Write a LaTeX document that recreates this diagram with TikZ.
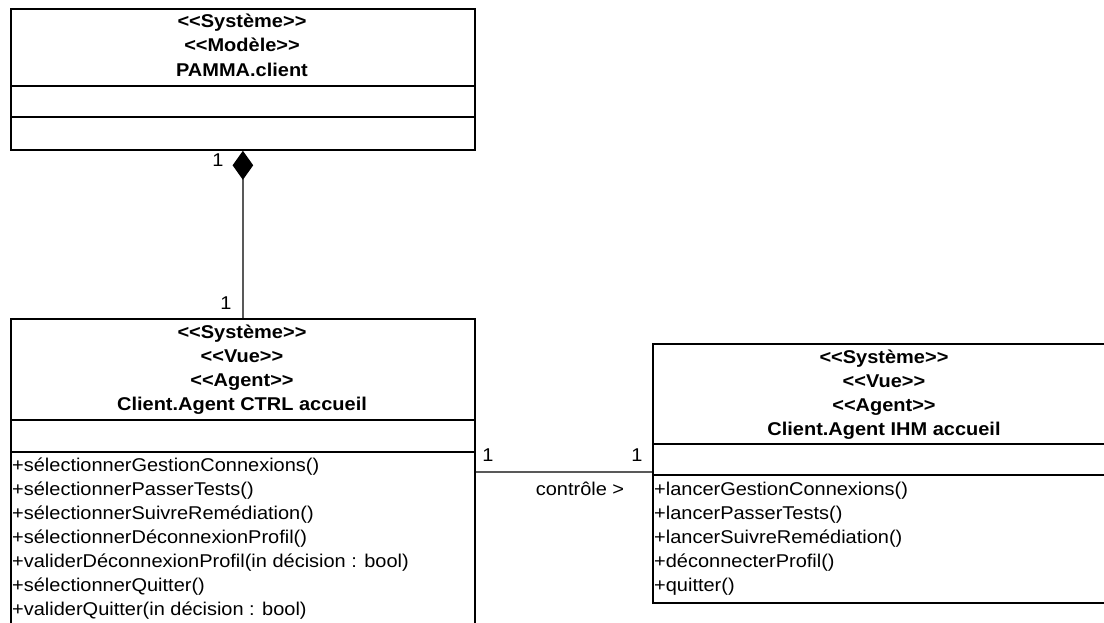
\documentclass[tikz,border=0pt]{standalone}
\usepackage{fontspec}
\setmainfont{Liberation Sans}[FakeStretch=1.08]
\usetikzlibrary{arrows.meta}
\begin{document}
\begin{tikzpicture}[x=1pt,y=-1pt,
  box/.style={draw=black, line width=1.8pt, inner sep=0pt, anchor=north west},
  sep/.style={line width=1.8pt, draw=black},
  hd/.style={font=\fontsize{18.5}{22}\selectfont\bfseries, anchor=base, inner sep=0pt},
  op/.style={font=\fontsize{18.5}{22}\selectfont, anchor=base west, inner sep=0pt},
  lbl/.style={font=\fontsize{18.5}{22}\selectfont, anchor=base, inner sep=0pt},
  conn/.style={line width=1.3pt, draw=black!65}]
\useasboundingbox (0,0) rectangle (1104,623);
\clip (0,0) rectangle (1104,623);
\fill[white] (0,0) rectangle (1104,623);

% --- PAMMA.client
\node[box, minimum width=464pt, minimum height=141pt] (model) at (10,8) {};
\draw[sep] (model.west |- 0,86) -- (model.east |- 0,86);
\draw[sep] (model.west |- 0,117) -- (model.east |- 0,117);
\node[hd] (m1) at (242,28) {<{}<Système>{}>};
\node[hd] (m2) at (242,52) {<{}<Modèle>{}>};
\node[hd] (m3) at (242,77) {PAMMA.client};

% --- CTRL
\node[box, minimum width=464pt, minimum height=310pt] (ctrl) at (10,318) {};
\draw[sep] (ctrl.west |- 0,420) -- (ctrl.east |- 0,420);
\draw[sep] (ctrl.west |- 0,452) -- (ctrl.east |- 0,452);
\node[hd] (c1) at (242,338) {<{}<Système>{}>};
\node[hd] (c2) at (242,362) {<{}<Vue>{}>};
\node[hd] (c3) at (242,386) {<{}<Agent>{}>};
\node[hd] (c4) at (242,410) {Client.Agent CTRL accueil};
\node[op] (co1) at (12,471) {+sélectionnerGestionConnexions()};
\node[op] (co2) at (12,495) {+sélectionnerPasserTests()};
\node[op] (co3) at (12,519) {+sélectionnerSuivreRemédiation()};
\node[op] (co4) at (12,543) {+sélectionnerDéconnexionProfil()};
\node[op] (co5) at (12,567) {+validerDéconnexionProfil(in décision : bool)};
\node[op] (co6) at (12,591) {+sélectionnerQuitter()};
\node[op] (co7) at (12,615) {+validerQuitter(in décision : bool)};

% --- IHM
\node[box, minimum width=464pt, minimum height=259pt] (ihm) at (652,343) {};
\draw[sep] (ihm.west |- 0,444) -- (ihm.east |- 0,444);
\draw[sep] (ihm.west |- 0,475) -- (ihm.east |- 0,475);
\node[hd] (i1) at (884,363) {<{}<Système>{}>};
\node[hd] (i2) at (884,387) {<{}<Vue>{}>};
\node[hd] (i3) at (884,411) {<{}<Agent>{}>};
\node[hd] (i4) at (884,435) {Client.Agent IHM accueil};
\node[op] (io1) at (654,495) {+lancerGestionConnexions()};
\node[op] (io2) at (654,519) {+lancerPasserTests()};
\node[op] (io3) at (654,543) {+lancerSuivreRemédiation()};
\node[op] (io4) at (654,567) {+déconnecterProfil()};
\node[op] (io5) at (654,591) {+quitter()};

% --- connectors
\draw[conn, {Diamond[length=29pt, width=20.6pt, color=black, fill=black]}-] (model.south) -- (ctrl.north);
\node[lbl] (mult1) at (218,167) {1};
\node[lbl] (mult2) at (226,309) {1};
\draw[conn] (ctrl.east |- 0,472) -- (ihm.west |- 0,472);
\node[lbl] (mult3) at (488,461) {1};
\node[lbl] (mult4) at (637,461) {1};
\node[lbl] (ctl) at (580,495) {contrôle >};
\end{tikzpicture}
\end{document}
